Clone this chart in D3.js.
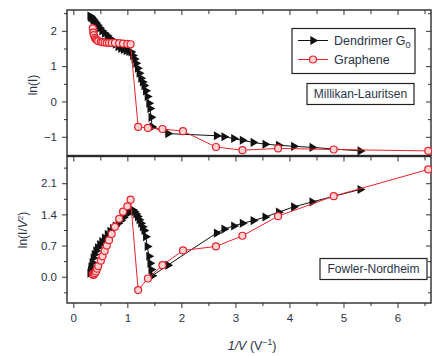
<!DOCTYPE html>
<html>
<head>
<meta charset="utf-8">
<script src="https://cdn.jsdelivr.net/npm/d3@7"></script>
<style>
  body { margin: 0; background: #fff; }
  svg { display: block; font-family: "Liberation Sans", Arial, sans-serif; }
</style>
</head>
<body>
<script>
// x = 1/V for each series (shared by both panels)
const dendX = [0.31,0.32,0.33,0.35,0.37,0.39,0.42,0.45,0.49,0.53,0.58,0.63,0.68,0.73,0.78,0.83,0.88,0.93,0.98,1.03,1.07,
  1.10,1.13,1.16,1.19,1.22,1.25,1.28,1.31,1.34,1.37,1.40,1.42,1.44,1.46,
  1.75,2.65,2.79,2.97,3.13,3.33,3.55,3.80,4.08,4.42,5.31];
// ln(I), Millikan-Lauritsen panel
const dendML = [2.42,2.40,2.38,2.35,2.31,2.27,2.22,2.16,2.08,2.00,1.93,1.86,1.78,1.70,1.62,1.55,1.50,1.47,1.44,1.42,1.40,
  1.30,1.20,1.08,0.94,0.80,0.66,0.55,0.45,0.30,0.14,-0.05,-0.20,-0.45,-0.72,
  -0.91,-0.97,-1.00,-1.05,-1.10,-1.16,-1.21,-1.24,-1.27,-1.30,-1.40];
// ln(I/V^2), Fowler-Nordheim panel
const dendFN = [0.08,0.14,0.22,0.32,0.42,0.50,0.58,0.65,0.72,0.79,0.87,0.95,1.02,1.08,1.14,1.20,1.26,1.33,1.40,1.46,1.51,
  1.50,1.46,1.41,1.35,1.28,1.20,1.12,1.04,0.90,0.68,0.46,0.30,0.16,0.02,
  0.26,0.98,1.07,1.14,1.20,1.26,1.34,1.45,1.57,1.68,1.96];

const grapX = [0.36,0.37,0.38,0.40,0.42,0.44,0.46,0.51,0.54,0.58,0.62,0.66,0.71,0.77,0.85,0.92,1.00,1.06,
  1.20,1.38,1.65,2.03,2.64,3.13,3.79,4.82,6.57];
const grapML = [2.07,1.95,1.88,1.80,1.76,1.73,1.71,1.69,1.68,1.67,1.66,1.66,1.66,1.66,1.65,1.64,1.63,1.62,
  -0.72,-0.75,-0.78,-0.84,-1.29,-1.38,-1.33,-1.36,-1.40];
const grapFN = [0.06,0.04,0.05,0.08,0.12,0.18,0.24,0.36,0.46,0.58,0.70,0.82,0.96,1.12,1.30,1.46,1.58,1.73,
  -0.30,-0.04,0.26,0.59,0.68,0.92,1.36,1.81,2.41];

const xMajor = [0,1,2,3,4,5,6];
const xMinor = [0.5,1.5,2.5,3.5,4.5,5.5,6.5];
const mlMajor = [-1,0,1,2];
const mlMinor = [-0.5,0.5,1.5,2.5];
const fnMajor = [0,0.7,1.4,2.1];
const fnMinor = [-0.35,0.35,1.05,1.75,2.45];

const W = 432, H = 356;
const left = 67, right = 431;
const red = "#e8222c";
const labelColor = "#2a3348";

const svg = d3.select("body").append("svg").attr("width", W).attr("height", H);

const x = d3.scaleLinear().domain([-0.117, 6.62]).range([left, right]);
const yML = d3.scaleLinear().domain([-1.53, 2.59]).range([155.5, 10]);
const yFN = d3.scaleLinear().domain([-0.59, 2.70]).range([303, 156.5]);

function toPts(xs, ys) { return xs.map((v, i) => ({ x: v, y: ys[i] })); }

function panel(y, major, minor, fmt, top, bottom, showBottomLabels) {
  const g = svg.append("g");
  // left axis, outward ticks
  const la = g.append("g").attr("transform", `translate(${left},0)`);
  la.call(d3.axisLeft(y).tickValues(major).tickSize(5).tickPadding(5).tickFormat(fmt));
  la.append("g").call(d3.axisLeft(y).tickValues(minor).tickSize(3).tickFormat(""));
  // right axis, inward ticks
  const ra = g.append("g").attr("transform", `translate(${right},0)`);
  ra.call(d3.axisRight(y).tickValues(major).tickSize(-5).tickFormat(""));
  ra.append("g").call(d3.axisRight(y).tickValues(minor).tickSize(-3).tickFormat(""));
  // top axis, inward ticks
  const ta = g.append("g").attr("transform", `translate(0,${top})`);
  ta.call(d3.axisTop(x).tickValues(xMajor).tickSize(-5).tickFormat(""));
  ta.append("g").call(d3.axisTop(x).tickValues(xMinor).tickSize(-4).tickFormat(""));
  // bottom axis
  const ba = g.append("g").attr("transform", `translate(0,${bottom})`);
  if (showBottomLabels) {
    ba.call(d3.axisBottom(x).tickValues(xMajor).tickSize(5).tickPadding(6).tickFormat(d3.format("d")));
    ba.append("g").call(d3.axisBottom(x).tickValues(xMinor).tickSize(3).tickFormat(""));
  }
  g.selectAll(".domain").remove();
  g.selectAll(".tick line").attr("stroke", "#333").attr("stroke-width", 1);
  g.selectAll(".tick text").attr("fill", labelColor).style("font-size", "11.5px")
    .style("font-family", "'Liberation Sans', Arial, sans-serif");
  // frame
  g.append("rect").attr("x", left).attr("y", top).attr("width", right - left).attr("height", bottom - top)
    .attr("fill", "none").attr("stroke", "#2b2b2b").attr("stroke-width", 1.4);
  return g;
}

function series(g, y, pts, kind) {
  const line = d3.line().x(d => x(d.x)).y(d => y(d.y));
  const c = g.append("g");
  c.append("path").attr("d", line(pts)).attr("fill", "none")
    .attr("stroke", kind === "tri" ? "#111" : red).attr("stroke-width", 1);
  if (kind === "tri") {
    c.selectAll("path.m").data(pts).join("path").attr("class", "m")
      .attr("d", d3.symbol(d3.symbolTriangle, 36))
      .attr("transform", d => `translate(${x(d.x)},${y(d.y)}) rotate(90)`)
      .attr("fill", "#111");
  } else {
    c.selectAll("circle").data(pts).join("circle")
      .attr("cx", d => x(d.x)).attr("cy", d => y(d.y)).attr("r", 3.5)
      .attr("fill", "#ffd3d3").attr("stroke", red).attr("stroke-width", 1.2);
  }
}

const gTop = panel(yML, mlMajor, mlMinor, d3.format("d"), 10, 155.5, false);
const gBot = panel(yFN, fnMajor, fnMinor, d3.format(".1f"), 156.5, 303, true);
gTop.selectAll(".tick text").text(function () { return this.textContent.replace("-", "\u2212"); });

// clip to frames
svg.append("clipPath").attr("id", "cTop").append("rect").attr("x", left).attr("y", 10).attr("width", right - left + 4).attr("height", 145.5);
svg.append("clipPath").attr("id", "cBot").append("rect").attr("x", left).attr("y", 156.5).attr("width", right - left + 4).attr("height", 146.5);
const dTop = svg.append("g").attr("clip-path", "url(#cTop)");
const dBot = svg.append("g").attr("clip-path", "url(#cBot)");
series(dTop, yML, toPts(dendX, dendML), "tri");
series(dTop, yML, toPts(grapX, grapML), "circ");
series(dBot, yFN, toPts(dendX, dendFN), "tri");
series(dBot, yFN, toPts(grapX, grapFN), "circ");

// legend
const lg = svg.append("g");
lg.append("rect").attr("x", 292).attr("y", 28.5).attr("width", 123).attr("height", 45)
  .attr("fill", "#fff").attr("stroke", "#222").attr("stroke-width", 1.2);
[["Dendrimer G", "tri", 40.5], ["Graphene", "circ", 59.5]].forEach(([name, kind, yy]) => {
  lg.append("line").attr("x1", 298).attr("x2", 328).attr("y1", yy).attr("y2", yy)
    .attr("stroke", kind === "tri" ? "#111" : red).attr("stroke-width", 1);
  if (kind === "tri") {
    lg.append("path").attr("d", d3.symbol(d3.symbolTriangle, 36)())
      .attr("transform", `translate(313,${yy}) rotate(90)`).attr("fill", "#111");
  } else {
    lg.append("circle").attr("cx", 313).attr("cy", yy).attr("r", 3.5)
      .attr("fill", "#ffd3d3").attr("stroke", red).attr("stroke-width", 1.2);
  }
  const t = lg.append("text").attr("x", 334).attr("y", yy + 4.5).attr("fill", labelColor)
    .style("font-size", "12.5px").text(name);
  if (kind === "tri") t.append("tspan").attr("dy", 3).style("font-size", "9px").text("0");
});

function tagBox(x0, y0, w, h, label) {
  svg.append("rect").attr("x", x0).attr("y", y0).attr("width", w).attr("height", h)
    .attr("fill", "#fff").attr("stroke", "#222").attr("stroke-width", 1.2);
  svg.append("text").attr("x", x0 + w / 2).attr("y", y0 + h / 2 + 4.3).attr("text-anchor", "middle")
    .attr("fill", labelColor).style("font-size", "12px").text(label);
}
tagBox(307, 83.5, 107, 21, "Millikan-Lauritsen");
tagBox(320, 258.5, 107, 21, "Fowler-Nordheim");

// axis titles
svg.append("text").attr("transform", "translate(37,85) rotate(-90)").attr("text-anchor", "middle")
  .attr("fill", labelColor).style("font-size", "12px").text("ln(I)");
const yt = svg.append("text").attr("transform", "translate(27,230) rotate(-90)").attr("text-anchor", "middle")
  .attr("fill", labelColor).style("font-size", "12px");
yt.append("tspan").text("ln(I/");
yt.append("tspan").style("font-style", "italic").text("V");
yt.append("tspan").attr("dy", -4).style("font-size", "8px").text("2");
yt.append("tspan").attr("dy", 4).text(")");

const xt = svg.append("text").attr("x", 252).attr("y", 350).attr("text-anchor", "middle")
  .attr("fill", labelColor).style("font-size", "12.5px");
xt.append("tspan").style("font-style", "italic").text("1/V");
xt.append("tspan").text(" (V");
xt.append("tspan").attr("dy", -5).style("font-size", "8.5px").text("\u22121");
xt.append("tspan").attr("dy", 5).text(")");
</script>
</body>
</html>
